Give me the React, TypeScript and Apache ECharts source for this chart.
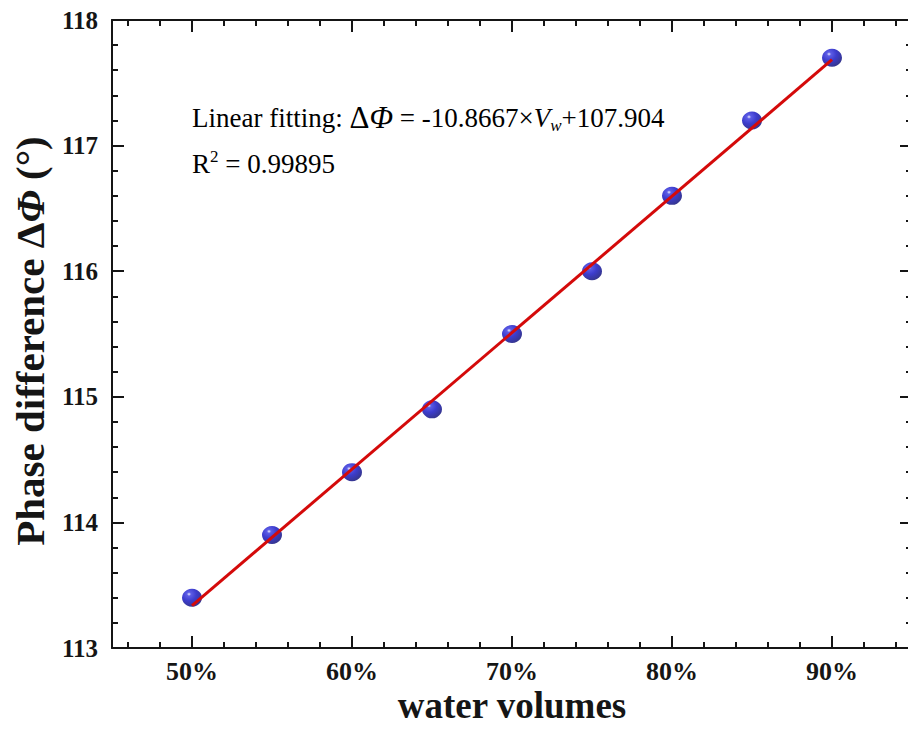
import React, { useEffect, useRef } from "react";
import * as echarts from "echarts";

const waterVolumes = [50, 55, 60, 65, 70, 75, 80, 85, 90];
const phaseDifference = [113.4, 113.9, 114.4, 114.9, 115.5, 116.0, 116.6, 117.2, 117.7];
const fitX = [50, 90];
const fitY = [113.337, 117.684];
const xMajorTicks = [50, 60, 70, 80, 90];
const xMinorTicks = [46, 48, 52, 54, 56, 58, 62, 64, 66, 68, 72, 74, 76, 78, 82, 84, 86, 88, 92, 94];
const xRange = [45, 95];
const yRange = [113, 118];

const FONT = "'Liberation Serif', 'Times New Roman', serif";
const INK = "#151515";

export default function App() {
  const ref = useRef<HTMLDivElement>(null);
  useEffect(() => {
    if (!ref.current) return;
    const chart = echarts.init(ref.current, null, { renderer: "svg" });
    const line = { lineStyle: { color: INK, width: 2 } };
    const tickStyle = { color: INK, width: 2 };
    const baseX = { type: "value", min: xRange[0], max: xRange[1], splitLine: { show: false } };
    const scatterData = waterVolumes.map((x, i) => [x, phaseDifference[i]]);
    const fitData = fitX.map((x, i) => [x, fitY[i]]);
    chart.setOption({
      animation: false,
      backgroundColor: "#ffffff",
      grid: { left: 112, top: 20, width: 800, height: 628, containLabel: false, outerBoundsMode: "none" },
      xAxis: [
        {
          ...baseX,
          position: "bottom",
          axisLine: { show: true, ...line },
          axisTick: { show: true, inside: true, length: 12, customValues: xMajorTicks, lineStyle: tickStyle },
          axisLabel: {
            show: true,
            customValues: xMajorTicks,
            formatter: (v: number) => `${v}%`,
            margin: 10,
            fontFamily: FONT,
            fontWeight: "bold",
            fontSize: 26,
            lineHeight: 26,
            color: INK,
          },
          name: "water volumes",
          nameLocation: "middle",
          nameMoveOverlap: false,
          nameGap: 39,
          nameTextStyle: {
            fontFamily: FONT,
            fontWeight: "bold",
            fontSize: 37,
            lineHeight: 37,
            color: INK,
            verticalAlign: "top",
          },
        },
        {
          ...baseX,
          position: "bottom",
          axisLine: { show: false },
          axisTick: { show: true, inside: true, length: 6, customValues: xMinorTicks, lineStyle: tickStyle },
          axisLabel: { show: false },
        },
        {
          ...baseX,
          position: "top",
          axisLine: { show: true, ...line },
          axisTick: { show: true, inside: true, length: 12, customValues: xMajorTicks, lineStyle: tickStyle },
          axisLabel: { show: false },
        },
        {
          ...baseX,
          position: "top",
          axisLine: { show: false },
          axisTick: { show: true, inside: true, length: 6, customValues: xMinorTicks, lineStyle: tickStyle },
          axisLabel: { show: false },
        },
      ],
      yAxis: [
        {
          type: "value",
          min: yRange[0],
          max: yRange[1],
          interval: 1,
          position: "left",
          splitLine: { show: false },
          axisLine: { show: true, ...line },
          axisTick: { show: true, inside: true, length: 12, lineStyle: tickStyle },
          minorTick: { show: true, splitNumber: 5, length: 6, lineStyle: tickStyle },
          axisLabel: { margin: 14, fontFamily: FONT, fontWeight: "bold", fontSize: 25, color: INK },
          name: "{a|Phase difference Δ}{b|Φ}{a| (°)}",
          nameLocation: "middle",
          nameMoveOverlap: false,
          nameGap: 62,
          nameTextStyle: {
            padding: [0, 14, 0, 0],
            rich: {
              a: { fontFamily: FONT, fontWeight: "bold", fontSize: 41, color: INK },
              b: { fontFamily: FONT, fontWeight: "bold", fontStyle: "italic", fontSize: 41, color: INK },
            },
          },
        },
        {
          type: "value",
          min: yRange[0],
          max: yRange[1],
          interval: 1,
          position: "right",
          splitLine: { show: false },
          axisLine: { show: true, ...line },
          axisTick: { show: true, inside: true, length: 12, lineStyle: tickStyle },
          minorTick: { show: true, splitNumber: 5, length: 6, lineStyle: tickStyle },
          axisLabel: { show: false },
        },
      ],
      graphic: [
        {
          type: "text",
          left: 192,
          top: 102,
          style: {
            text: "{n|Linear fitting: }{g|Δ}{gi|Φ}{n| = -10.8667×}{i|V}{s|w}{n|+107.904}",
            rich: {
              n: { fontFamily: FONT, fontSize: 27, color: "#222", height: 34 },
              g: { fontFamily: FONT, fontSize: 31, color: "#222", height: 34 },
              gi: { fontFamily: FONT, fontStyle: "italic", fontSize: 31, color: "#222", height: 34 },
              i: { fontFamily: FONT, fontStyle: "italic", fontSize: 27, color: "#222", height: 34 },
              s: { fontFamily: FONT, fontStyle: "italic", fontSize: 17, color: "#222", height: 18, verticalAlign: "bottom" },
            },
          },
        },
        {
          type: "text",
          left: 192,
          top: 148,
          style: {
            text: "{n|R}{p|2}{n| = 0.99895}",
            rich: {
              n: { fontFamily: FONT, fontSize: 27, color: "#222", height: 34 },
              p: { fontFamily: FONT, fontSize: 17, color: "#222", height: 20, verticalAlign: "top" },
            },
          },
        },
      ],
      series: [
        {
          type: "scatter",
          xAxisIndex: 0,
          yAxisIndex: 0,
          data: scatterData,
          symbol: "circle",
          symbolSize: [20, 18],
          z: 2,
          itemStyle: {
            color: {
              type: "radial",
              x: 0.35,
              y: 0.3,
              r: 0.75,
              colorStops: [
                { offset: 0, color: "#e8e8ff" },
                { offset: 0.14, color: "#3434e0" },
                { offset: 0.5, color: "#0c0cc0" },
                { offset: 1, color: "#03036e" },
              ],
            },
          },
        },
        {
          type: "line",
          xAxisIndex: 0,
          yAxisIndex: 0,
          data: fitData,
          symbol: "none",
          z: 3,
          lineStyle: { color: "#d40a0a", width: 3 },
        },
      ],
    });
    return () => chart.dispose();
  }, []);
  return <div ref={ref} style={{ position: "fixed", left: 0, top: 0, width: 908, height: 729 }} />;
}
